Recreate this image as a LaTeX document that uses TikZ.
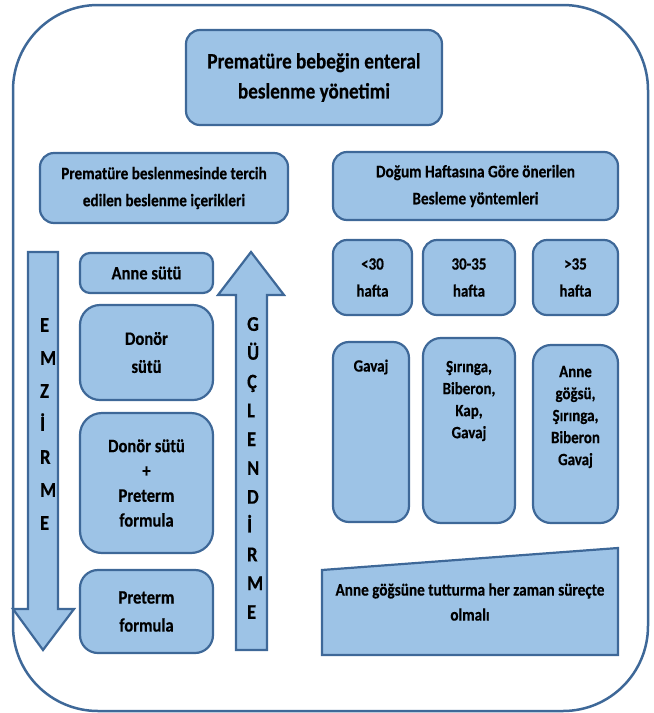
\documentclass[tikz,border=0pt]{standalone}
\usepackage{fontspec}
\setmainfont{Carlito}
\newfontfamily\cf{Carlito}[FakeStretch=0.87, BoldFeatures={FakeBold=0.4}]
\definecolor{boxfill}{RGB}{157,195,230}
\definecolor{boxline}{RGB}{62,104,152}
\begin{document}
\begin{tikzpicture}[x=1pt,y=-1pt,
  box/.style={draw=boxline, fill=boxfill, line width=2.2pt, rounded corners=14pt, inner sep=0pt, align=center, text=black},
  shapeline/.style={draw=boxline, fill=boxfill, line width=2.2pt, line join=miter},
  txt/.style={align=center, inner sep=0pt, text=black},
  ftitle/.style={font=\cf\bfseries\fontsize{22}{30}\selectfont},
  fhead/.style={font=\cf\bfseries\fontsize{17.5}{27}\selectfont},
  fleft/.style={font=\cf\bfseries\fontsize{19}{28}\selectfont},
  fright/.style={font=\cf\bfseries\fontsize{17.2}{22}\selectfont},
  fweek/.style={font=\cf\bfseries\fontsize{17.2}{27}\selectfont}]
\useasboundingbox (0,0) rectangle (654,713);

% title and headers
\node[box, ftitle, minimum width=256pt, minimum height=95pt] (title) at (314,77.5) {Prematüre bebeğin enteral\\beslenme yönetimi};
\node[box, fhead, minimum width=248pt, minimum height=70pt] (lhead) at (164,188) {Prematüre beslenmesinde tercih\\edilen beslenme içerikleri};
\node[box, fhead, minimum width=285pt, minimum height=68pt] (rhead) at (475.5,186) {Doğum Haftasına Göre önerilen\\Besleme yöntemleri};

% arrows
\draw[shapeline] (28,252) -- (58,252) -- (58,609) -- (74,609) -- (43,650) -- (13,609) -- (28,609) -- cycle;
\draw[shapeline] (236,650) -- (236,295) -- (218,295) -- (251,252) -- (284,295) -- (267,295) -- (267,650) -- cycle;
\node[txt, align=left, anchor=west, font=\cf\bfseries\fontsize{21}{33}\selectfont] (emzirme) at (40,424) {E\\M\\Z\\İ\\R\\M\\E};
\node[txt, align=left, anchor=west, font=\cf\bfseries\fontsize{21}{28.8}\selectfont] (guclendirme) at (247,468) {G\\Ü\\Ç\\L\\E\\N\\D\\İ\\R\\M\\E};

% left column
\node[box, fleft, minimum width=133pt, minimum height=40pt, rounded corners=10pt] (annesutu) at (146.5,273) {Anne sütü};
\node[box, fleft, minimum width=133pt, minimum height=95pt, rounded corners=20pt] (donor) at (146.5,352.5) {Donör\\sütü};
\node[box, font=\cf\bfseries\fontsize{19}{24.8}\selectfont, minimum width=133pt, minimum height=140pt, rounded corners=22pt] (donorplus) at (146.5,483) {Donör sütü\\+\\Preterm\\formula};
\node[box, fleft, minimum width=133pt, minimum height=83pt, rounded corners=18pt] (preterm) at (146.5,611.5) {Preterm\\formula};

% right: weeks
\node[box, fweek, minimum width=79pt, minimum height=75pt] (w30) at (372.5,277.5) {<30\\hafta};
\node[box, fweek, minimum width=92pt, minimum height=75pt] (w3035) at (469,277.5) {30-35\\hafta};
\node[box, fweek, minimum width=85pt, minimum height=75pt] (w35) at (575.5,277.5) {>35\\hafta};

% right: methods
\node[box, minimum width=76pt, minimum height=180pt, rounded corners=16pt] (m30) at (371,432) {};
\node[txt, fright] (m30t) at (371,367) {Gavaj};
\node[box, minimum width=92pt, minimum height=185pt, rounded corners=18pt] (m3035) at (469,430.5) {};
\node[txt, fright] (m3035t) at (469,401) {Şırınga,\\Biberon,\\Kap,\\Gavaj};
\node[box, minimum width=85pt, minimum height=178pt, rounded corners=18pt] (m35) at (575.5,434) {};
\node[txt, fright] (m35t) at (575.5,417) {Anne\\göğsü,\\Şırınga,\\Biberon\\Gavaj};

% trapezoid
\draw[shapeline] (322,570) coordinate (tl) -- (618,548) coordinate (tr) -- (618,655) coordinate (br) -- (322,655) coordinate (bl) -- cycle;
\node[txt, font=\cf\bfseries\fontsize{17.5}{25}\selectfont] (emzirt) at (470,602) {Anne göğsüne tutturma her zaman süreçte\\olmalı};

% outer frame
\draw[boxline, line width=2.5pt, rounded corners=85pt] (13,5) rectangle (648,711);
\end{tikzpicture}
\end{document}
